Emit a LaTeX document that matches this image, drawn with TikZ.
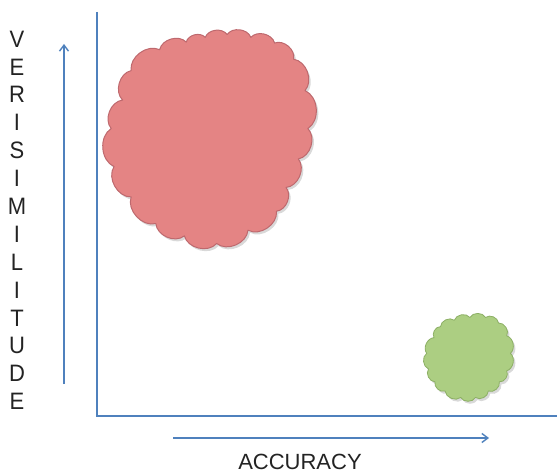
\documentclass[tikz,border=0pt]{standalone}
\usepackage{fontspec}
\setmainfont{Liberation Sans}
\usetikzlibrary{shadows,arrows.meta}
\definecolor{axisblue}{RGB}{79,129,189}
\definecolor{redfill}{RGB}{228,132,132}
\definecolor{reddraw}{RGB}{190,105,110}
\definecolor{greenfill}{RGB}{172,206,130}
\definecolor{greendraw}{RGB}{140,175,100}
\definecolor{txt}{RGB}{35,35,35}
\tikzset{
  axisline/.style={draw=axisblue, line width=1.6pt},
  axisarrow/.style={draw=axisblue, line width=1.4pt, -{Straight Barb[length=6pt,width=9pt]}},
  blob/.style={line join=round,
    drop shadow={opacity=0.3, shadow xshift=2pt, shadow yshift=-2.5pt}},
  lbl/.style={text=txt, font=\fontsize{22}{22}\selectfont, inner sep=0pt},
  puff/.style={bend left=62}
}
\begin{document}
\begin{tikzpicture}[x=1pt,y=-1pt]
\useasboundingbox (0,0) rectangle (557,476);
% axes
\coordinate (top) at (97,12);
\coordinate (corner) at (97,416);
\coordinate (right) at (557,416);
\draw[axisline] (top) -- (corner) -- (right);
% arrows
\coordinate (ua) at (64,384);
\coordinate (ub) at (64,44);
\draw[axisarrow] (ua) -- (ub);
\coordinate (ha) at (173,438);
\coordinate (hb) at (489,438);
\draw[axisarrow] (ha) -- (hb);
% red cloud
\begin{scope}[scale around={0.95:(210,139)}]
\path[blob, fill=redfill, draw=reddraw, line width=1pt]
  (127,67) to[puff] (157,45) to[puff] (185,37) to[puff] (205,32)
  to[puff] (228,29) to[puff] (253,32) to[puff] (278,38) to[puff] (298,55)
  to[puff] (310,88) to[puff] (313,128) to[puff] (303,160) to[puff] (290,190)
  to[puff] (280,215) to[puff] (250,235) to[puff] (217,249) to[puff] (183,241)
  to[puff] (153,228) to[puff] (127,200) to[puff] (109,168) to[puff] (106,128)
  to[puff] (118,98) to[puff] cycle;
\end{scope}
% green cloud
\begin{scope}[scale around={0.92:(469,357)}]
\path[blob, fill=greenfill, draw=greendraw, line width=0.8pt]
  (431,336) to[puff] (438,324) to[puff] (453,317) to[puff] (470,314)
  to[puff] (487,314) to[puff] (501,320) to[puff] (510,334) to[puff] (514,353)
  to[puff] (510,372) to[puff] (502,384) to[puff] (490,394) to[puff] (476,401)
  to[puff] (460,401) to[puff] (443,394) to[puff] (432,384) to[puff] (425,370)
  to[puff] (423,353) to[puff] cycle;
\end{scope}
% labels
\node[lbl] (acc) at (300,462) {ACCURACY};
\foreach \l [count=\i from 0] in {V,E,R,I,S,I,M,I,L,I,T,U,D,E}{
  \node[lbl, yscale=1.08] (v\i) at (17,{39+27.9*\i}) {\l};
}
\end{tikzpicture}
\end{document}
